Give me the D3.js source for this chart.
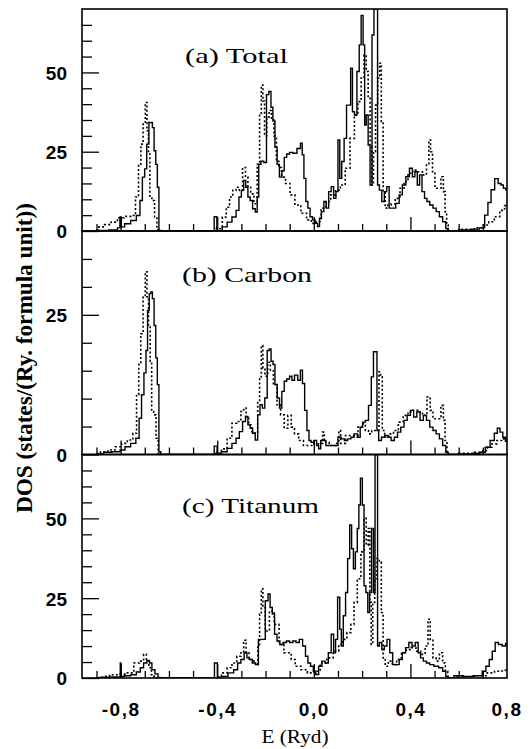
<!DOCTYPE html>
<html><head><meta charset="utf-8">
<script src="https://cdn.jsdelivr.net/npm/d3@7"></script>
<style>body{margin:0;background:#fff}svg{display:block}</style>
</head><body>
<svg id="chart" width="531" height="749"></svg>
<script>
// ---------- data ----------
const xMajorTicks = [-0.8, -0.4, 0.0, 0.4, 0.8];
const xTickLabels = ["-0,8", "-0,4", "0,0", "0,4", "0,8"];
const xMinorTicks = [-0.9,-0.8,-0.7,-0.6,-0.5,-0.4,-0.3,-0.2,-0.1,0,0.1,0.2,0.3,0.4,0.5,0.6,0.7];
const panelTitles = ["(a) Total", "(b) Carbon", "(c) Titanum"];
const panelMax = [70, 40, 70];
const yLabelTicks = [[0, 25, 50], [0, 25], [0, 25, 50]];

// [E (Ryd), DOS]
const totalSolid = [
[-0.90,0],[-0.88,0.2],[-0.82,0.3],[-0.806,1.0],[-0.80,4.4],[-0.795,1.3],[-0.772,2.3],[-0.745,3.3],[-0.725,4.9],[-0.715,9.6],[-0.705,17],[-0.696,19.6],[-0.688,27.4],[-0.678,34.2],[-0.672,34.2],[-0.665,32.6],[-0.658,25.3],[-0.651,21],[-0.645,13.8],[-0.638,0.2],[-0.63,0],
[-0.42,0],[-0.405,4.5],[-0.398,0.2],[-0.389,0.2],[-0.369,1.3],[-0.349,2.8],[-0.329,4.4],[-0.315,6.5],[-0.305,10.7],[-0.295,12.8],[-0.286,15.9],[-0.278,13.8],[-0.268,10.7],[-0.259,9.6],[-0.248,7],[-0.237,6],[-0.232,10.7],[-0.224,21],[-0.214,22],[-0.2,21.6],[-0.192,43],[-0.181,44],[-0.174,39],[-0.165,34.7],[-0.157,26.4],[-0.147,21],[-0.138,17],[-0.127,19],[-0.118,23.2],[-0.107,24.3],[-0.094,24.8],[-0.08,24.5],[-0.06,26],[-0.051,27.7],[-0.045,24],[-0.037,16.6],[-0.029,9.3],[-0.02,7.2],[-0.011,4.5],[0.0,3.5],[0.011,2.4],[0.02,1.4],[0.027,4],[0.036,6.1],[0.047,9.3],[0.056,7.2],[0.067,12.4],[0.077,14],[0.087,10.3],[0.096,12.4],[0.104,28.7],[0.111,16.6],[0.12,21.9],[0.131,29.2],[0.14,39.7],[0.149,39.7],[0.156,51.3],[0.164,37.6],[0.173,36.6],[0.184,50.3],[0.192,58.7],[0.2,68],[0.208,58.7],[0.213,33.4],[0.221,36.6],[0.229,27.1],[0.237,14.5],[0.245,61.8],[0.253,70],[0.261,70],[0.267,14.5],[0.276,12.9],[0.287,9.3],[0.297,12.4],[0.307,14],[0.317,7.2],[0.331,7.2],[0.347,8.7],[0.36,11.4],[0.373,14.5],[0.389,17.1],[0.403,19.8],[0.413,17.1],[0.424,18.7],[0.433,14.5],[0.443,17.7],[0.453,12.4],[0.464,10.3],[0.473,9.3],[0.487,8.2],[0.5,7.2],[0.513,6.1],[0.527,4.5],[0.54,2.9],[0.553,0.8],[0.56,0],
[0.64,0.3],[0.67,0.6],[0.7,1.0],[0.715,5],[0.727,9],[0.741,13],[0.757,16.5],[0.77,15],[0.78,14.5],[0.79,13.5],[0.8,13]
];
const totalDotted = [
[-0.90,0.4],[-0.88,1.3],[-0.853,2],[-0.826,2.8],[-0.8,4.2],[-0.772,4.6],[-0.745,4.9],[-0.732,10.7],[-0.72,20.6],[-0.712,27.4],[-0.702,33.7],[-0.694,40.5],[-0.688,31.6],[-0.682,24.3],[-0.676,10.7],[-0.665,9.6],[-0.654,4.4],[-0.645,0.4],[-0.64,0],
[-0.41,0],[-0.405,1],[-0.389,0.8],[-0.369,4.4],[-0.356,7.5],[-0.342,10.7],[-0.329,12.8],[-0.315,13.8],[-0.302,12.8],[-0.288,20],[-0.278,17],[-0.268,13.8],[-0.255,11.7],[-0.241,8.6],[-0.228,21],[-0.221,36.8],[-0.214,46],[-0.208,41],[-0.2,30],[-0.19,36],[-0.18,38],[-0.17,35],[-0.16,30],[-0.15,22],[-0.14,20],[-0.127,17],[-0.107,15],[-0.09,11.4],[-0.067,8.2],[-0.04,5.6],[-0.02,3.5],[0.0,2.4],[0.02,3],[0.04,7.2],[0.06,9.3],[0.08,11.4],[0.1,12.9],[0.12,14.5],[0.14,19.8],[0.16,29.2],[0.176,36.6],[0.189,40.8],[0.203,48.2],[0.213,55.5],[0.221,50.3],[0.229,41.9],[0.237,27.1],[0.243,14.5],[0.251,25],[0.26,39.7],[0.269,48.2],[0.276,52.9],[0.283,34.5],[0.291,12.4],[0.3,7.2],[0.313,8.2],[0.327,8.5],[0.347,10.3],[0.367,13.5],[0.38,15.6],[0.4,18.2],[0.42,19.2],[0.44,18.7],[0.46,17.7],[0.473,20.8],[0.48,28.7],[0.487,25],[0.496,18.7],[0.507,13.5],[0.52,13.5],[0.533,17.1],[0.54,12.4],[0.547,6.1],[0.553,1.9],[0.56,0],
[0.64,0.5],[0.69,1],[0.714,1.9],[0.735,2.9],[0.76,4.5],[0.78,6.5],[0.8,8]
];
const carbonSolid = [
[-0.90,0],[-0.88,0.1],[-0.86,0.4],[-0.813,0.5],[-0.792,0.8],[-0.772,1.4],[-0.745,2],[-0.729,2.9],[-0.718,6.5],[-0.709,10.7],[-0.698,14.6],[-0.692,18.6],[-0.685,25.8],[-0.678,28.8],[-0.672,29.1],[-0.665,27.9],[-0.658,23.1],[-0.651,17.3],[-0.645,12.5],[-0.638,0.5],[-0.63,0],
[-0.42,0],[-0.405,1.5],[-0.396,0.2],[-0.369,0.5],[-0.349,1.1],[-0.329,2],[-0.315,2.9],[-0.302,4.1],[-0.288,5.9],[-0.278,6.8],[-0.268,5.3],[-0.259,4.7],[-0.248,3.8],[-0.237,2.6],[-0.228,7.1],[-0.218,8.9],[-0.208,8.3],[-0.198,10.1],[-0.188,18.6],[-0.181,18.9],[-0.173,16.7],[-0.165,16.1],[-0.157,12.5],[-0.146,10.1],[-0.138,8.3],[-0.127,11.3],[-0.118,13.1],[-0.107,13.5],[-0.094,14],[-0.087,13.3],[-0.073,14.2],[-0.06,13.3],[-0.051,15.1],[-0.043,12.7],[-0.033,7.9],[-0.024,4.3],[-0.016,2.5],[-0.007,2.2],[0.007,2.5],[0.016,1.6],[0.024,1],[0.033,2.5],[0.047,2.5],[0.053,1.6],[0.067,1.6],[0.093,1.6],[0.107,3.1],[0.12,2.8],[0.133,2.5],[0.147,2.8],[0.16,3.1],[0.173,3.7],[0.187,3.1],[0.197,4.9],[0.207,5.8],[0.22,6.1],[0.233,8.8],[0.243,13.9],[0.251,18.4],[0.259,18.4],[0.264,4.3],[0.273,2.5],[0.287,3.1],[0.3,3.4],[0.313,3.1],[0.327,2.5],[0.34,3.1],[0.353,4],[0.367,4.9],[0.38,6.1],[0.393,7],[0.407,7.9],[0.42,6.7],[0.433,7.6],[0.447,6.1],[0.46,7],[0.473,6.1],[0.487,4.9],[0.5,4.3],[0.513,3.7],[0.527,2.8],[0.54,1.6],[0.553,0.4],[0.56,0],
[0.64,0.1],[0.675,0.2],[0.7,0.4],[0.72,1.3],[0.74,2.5],[0.755,3.8],[0.765,4.7],[0.777,4],[0.788,3.1],[0.8,2.6]
];
const carbonDotted = [
[-0.90,0.2],[-0.866,0.5],[-0.84,0.8],[-0.806,1.4],[-0.786,2],[-0.759,2.6],[-0.739,3.8],[-0.729,10.7],[-0.721,16.1],[-0.712,21.6],[-0.702,28.2],[-0.694,32.7],[-0.688,28.2],[-0.681,22.8],[-0.674,16.7],[-0.669,7.7],[-0.658,7.1],[-0.649,2.9],[-0.64,0.2],[-0.635,0],
[-0.41,0],[-0.405,0.5],[-0.396,0.2],[-0.369,1],[-0.349,2.9],[-0.329,5.6],[-0.309,5.9],[-0.295,7.7],[-0.286,8.3],[-0.275,6.5],[-0.264,5.3],[-0.251,4.1],[-0.237,3.8],[-0.228,9.5],[-0.221,13.7],[-0.214,19.5],[-0.208,15.5],[-0.197,14],[-0.185,16.5],[-0.175,15],[-0.16,12.5],[-0.145,8.9],[-0.13,7.1],[-0.115,4.7],[-0.1,7],[-0.087,4.9],[-0.073,3.7],[-0.053,2.5],[-0.033,1.6],[-0.013,1.6],[0.013,1.9],[0.033,2],[0.04,4],[0.047,2.2],[0.08,1.6],[0.1,2],[0.107,4.3],[0.115,2],[0.147,3.4],[0.173,3.4],[0.193,4.9],[0.207,5.5],[0.22,4.3],[0.233,3.7],[0.247,4.3],[0.267,4.3],[0.273,14.8],[0.28,13.9],[0.287,4.3],[0.3,3.1],[0.32,3.7],[0.34,4.3],[0.36,5.8],[0.38,7],[0.4,7.6],[0.42,7.9],[0.44,7.6],[0.46,7],[0.477,10.3],[0.487,7.9],[0.5,6.4],[0.52,6.4],[0.533,8.8],[0.54,6.1],[0.547,2.5],[0.556,0.4],[0.56,0],
[0.64,0.2],[0.69,0.4],[0.71,0.7],[0.728,1.3],[0.748,1.9],[0.768,2.5],[0.788,2.8],[0.8,2.4]
];
const titanSolid = [
[-0.90,0],[-0.88,0.2],[-0.813,0.3],[-0.803,0.3],[-0.80,4.7],[-0.797,0.5],[-0.772,0.7],[-0.745,1],[-0.725,1.9],[-0.712,3.2],[-0.698,4.7],[-0.685,5.5],[-0.676,4.7],[-0.665,2.6],[-0.651,1.3],[-0.64,0.2],[-0.635,0],
[-0.42,0],[-0.403,4.7],[-0.396,0.2],[-0.369,0.5],[-0.342,1.6],[-0.322,2.6],[-0.309,4.7],[-0.295,5.8],[-0.282,7.9],[-0.272,6.3],[-0.262,5.8],[-0.248,4.7],[-0.235,4.2],[-0.224,12.1],[-0.208,12.1],[-0.194,24.2],[-0.185,26.3],[-0.177,22.1],[-0.167,20],[-0.158,13.7],[-0.147,11.6],[-0.134,10.5],[-0.12,11.1],[-0.107,11.6],[-0.094,11.1],[-0.08,11.6],[-0.067,11.1],[-0.053,12.1],[-0.04,10],[-0.029,6.8],[-0.02,4.7],[-0.007,3.7],[0.003,2.1],[0.013,1.1],[0.027,3.7],[0.04,5.3],[0.053,4.7],[0.067,7.9],[0.077,13.7],[0.087,7.9],[0.093,12.1],[0.104,25.3],[0.111,15.3],[0.117,10],[0.127,19.5],[0.136,26.8],[0.144,37.4],[0.153,47.9],[0.16,40.5],[0.168,34.2],[0.176,39.5],[0.184,46.8],[0.189,54.2],[0.197,62.6],[0.205,54.2],[0.211,28.9],[0.22,26.8],[0.227,20.5],[0.235,26.8],[0.243,46.8],[0.251,26.8],[0.256,70],[0.261,70],[0.267,10],[0.276,11.1],[0.287,8.9],[0.297,10],[0.309,12.1],[0.32,7.9],[0.333,4.2],[0.347,4.2],[0.36,5.8],[0.373,7.9],[0.387,9.5],[0.4,11.1],[0.413,10],[0.427,11.1],[0.437,7.9],[0.447,6.3],[0.46,5.3],[0.473,4.7],[0.487,4.2],[0.507,3.7],[0.527,3.2],[0.54,2.1],[0.553,0.5],[0.56,0],
[0.6,0.7],[0.64,0.5],[0.69,0.7],[0.705,2.1],[0.72,3.7],[0.733,5.8],[0.745,8.4],[0.757,11.1],[0.772,10.5],[0.788,10],[0.8,10.8]
];
const titanDotted = [
[-0.88,0.3],[-0.866,0.5],[-0.826,1],[-0.786,1.2],[-0.759,1.6],[-0.732,4.7],[-0.712,5.3],[-0.698,7.4],[-0.689,5.3],[-0.678,3.2],[-0.667,1],[-0.658,0.5],[-0.65,0],
[-0.41,0],[-0.396,0.4],[-0.369,1.6],[-0.349,3.2],[-0.329,4.7],[-0.309,6.8],[-0.295,7.9],[-0.286,11.8],[-0.275,7.9],[-0.262,5.8],[-0.248,5.3],[-0.235,4.2],[-0.228,10.5],[-0.221,20],[-0.214,27.9],[-0.208,22.1],[-0.194,14.7],[-0.174,21],[-0.154,16.8],[-0.134,10.5],[-0.114,7.9],[-0.1,7.9],[-0.087,5.8],[-0.067,3.7],[-0.04,2.6],[-0.013,1.6],[0.013,2.1],[0.04,4.7],[0.067,6.3],[0.093,8.4],[0.113,10.5],[0.127,12.1],[0.147,14.2],[0.16,16.8],[0.173,23.7],[0.187,31.1],[0.203,39.5],[0.213,50],[0.221,41.6],[0.229,46.8],[0.235,23.7],[0.24,10.5],[0.248,23.7],[0.256,31.1],[0.267,37.4],[0.276,36.3],[0.283,20.5],[0.291,5.8],[0.3,3.7],[0.317,5.3],[0.333,4.2],[0.353,5.8],[0.373,7.9],[0.393,8.9],[0.413,9.5],[0.433,8.4],[0.453,7.4],[0.469,10],[0.477,18.4],[0.487,12.1],[0.5,6.3],[0.513,5.3],[0.527,7.9],[0.54,4.7],[0.549,2.1],[0.56,0.5],[0.565,0],
[0.62,0.3],[0.7,0.7],[0.735,1.6],[0.762,2.1],[0.785,2.2],[0.8,2.4]
];
const panelSeries = [[totalSolid, totalDotted], [carbonSolid, carbonDotted], [titanSolid, titanDotted]];

// ---------- layout ----------
const svg = d3.select("#chart");
const X0 = 82, X1 = 507;
const panelTops = [9, 231, 454.5];
const panelBottoms = [231, 454.5, 678];
const x = d3.scaleLinear().domain([-0.96, 0.8]).range([X0, X1]);
const tickFont = "'Liberation Sans', Arial, sans-serif";
const serif = "'Liberation Serif', 'Times New Roman', serif";
const titleX = [185, 182, 182];
const titleY = [63, 282, 513];
const titleLen = [103, 130, 137];

panelTitles.forEach((title, i) => {
  const top = panelTops[i], bot = panelBottoms[i];
  const y = d3.scaleLinear().domain([0, panelMax[i]]).range([bot, top]);
  const g = svg.append("g");
  const clipId = "clip" + i;
  svg.append("clipPath").attr("id", clipId).append("rect")
    .attr("x", X0).attr("y", top).attr("width", X1 - X0).attr("height", bot - top);

  // minor y ticks
  const minorY = d3.range(5, panelMax[i], 5).filter(v => v % 25 !== 0);
  g.append("g").attr("transform", `translate(${X0},0)`)
    .call(d3.axisLeft(y).tickValues(minorY).tickSize(-10).tickFormat(""))
    .call(a => a.select(".domain").remove())
    .call(a => a.selectAll("line").attr("stroke", "#000").attr("stroke-width", 1.3));
  // major y ticks with labels
  g.append("g").attr("transform", `translate(${X0},0)`)
    .call(d3.axisLeft(y).tickValues(yLabelTicks[i]).tickSize(-17).tickPadding(15).tickFormat(d3.format("d")))
    .call(a => a.select(".domain").remove())
    .call(a => a.selectAll("line").attr("stroke", "#000").attr("stroke-width", 1.3))
    .call(a => a.selectAll("text").attr("font-family", tickFont).attr("font-weight", "bold")
      .attr("font-size", 19).attr("fill", "#000").attr("dy", "0.36em"));

  // x ticks (bottom, inward)
  const minorX = xMinorTicks.filter(v => !xMajorTicks.some(m => Math.abs(m - v) < 1e-6));
  g.append("g").attr("transform", `translate(0,${bot})`)
    .call(d3.axisBottom(x).tickValues(minorX).tickSize(-7).tickFormat(""))
    .call(a => a.select(".domain").remove())
    .call(a => a.selectAll("line").attr("stroke", "#000").attr("stroke-width", 1.3));
  const majAxis = d3.axisBottom(x).tickValues(xMajorTicks.filter(v => v < 0.79)).tickSize(-14).tickPadding(25)
    .tickFormat(d => i === 2 ? xTickLabels[xMajorTicks.indexOf(d)] : "");
  g.append("g").attr("transform", `translate(0,${bot})`)
    .call(majAxis)
    .call(a => a.select(".domain").remove())
    .call(a => a.selectAll("line").attr("stroke", "#000").attr("stroke-width", 1.3))
    .call(a => a.selectAll("text").attr("font-family", tickFont).attr("font-weight", "bold")
      .attr("font-size", 19).attr("fill", "#000").attr("letter-spacing", 1.5));

  const line = d3.line().x(d => x(d[0])).y(d => y(d[1])).curve(d3.curveStep);
  const [solid, dotted] = panelSeries[i];
  g.append("path").datum(dotted).attr("clip-path", `url(#${clipId})`)
    .attr("d", line).attr("fill", "none").attr("stroke", "#000")
    .attr("stroke-width", 1.6).attr("stroke-dasharray", "2,2.2");
  g.append("path").datum(solid).attr("clip-path", `url(#${clipId})`)
    .attr("d", line).attr("fill", "none").attr("stroke", "#000")
    .attr("stroke-width", 1.4).attr("stroke-linejoin", "miter");

  // frame
  g.append("rect").attr("x", X0).attr("y", top).attr("width", X1 - X0).attr("height", bot - top)
    .attr("fill", "none").attr("stroke", "#000").attr("stroke-width", 1.6);

  // panel title
  g.append("text").attr("x", titleX[i]).attr("y", titleY[i])
    .attr("font-family", serif).attr("font-size", 21).attr("fill", "#000")
    .attr("textLength", titleLen[i]).attr("lengthAdjust", "spacingAndGlyphs")
    .text(title);
});

// last x tick label at right border (0,8)
svg.append("text").attr("x", x(0.8)).attr("y", 678 + 25).attr("dy", "0.71em")
  .attr("text-anchor", "middle").attr("font-family", tickFont).attr("font-weight", "bold")
  .attr("font-size", 19).attr("letter-spacing", 1.5).text(xTickLabels[4]);

// axis titles
svg.append("text").attr("x", 295).attr("y", 743).attr("text-anchor", "middle")
  .attr("font-family", serif).attr("font-size", 19)
  .attr("textLength", 67).attr("lengthAdjust", "spacingAndGlyphs")
  .text("E (Ryd)");
svg.append("text").attr("transform", "translate(32,358) rotate(-90)").attr("text-anchor", "middle")
  .attr("font-family", serif).attr("font-size", 23).attr("font-weight", "bold")
  .attr("textLength", 310).attr("lengthAdjust", "spacingAndGlyphs")
  .text("DOS (states/(Ry. formula unit))");
</script>
</body></html>
